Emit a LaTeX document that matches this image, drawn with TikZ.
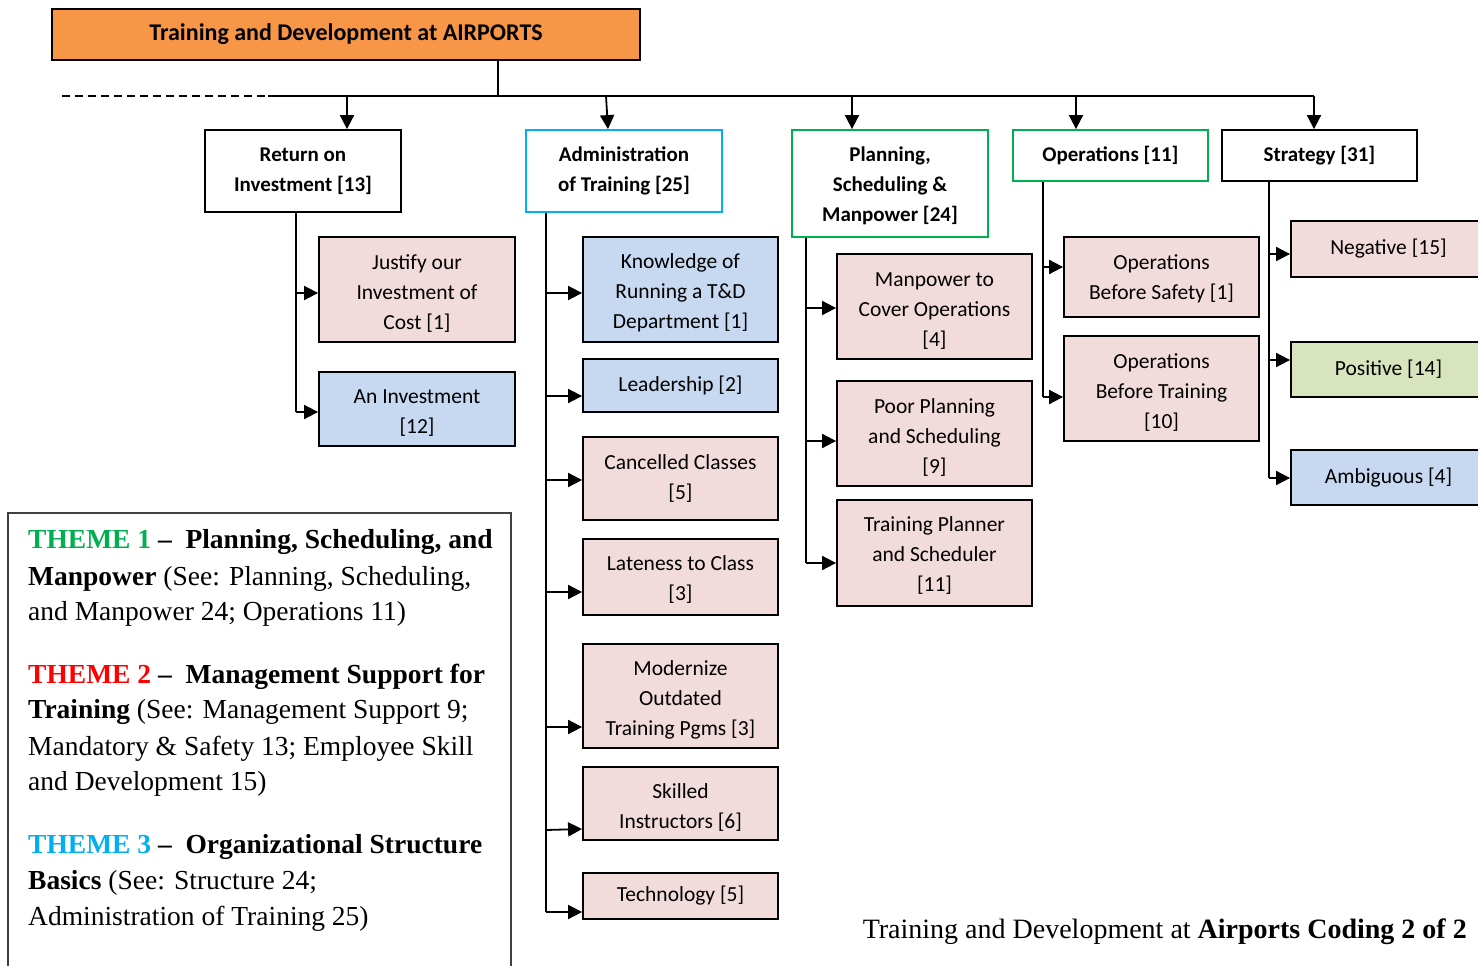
\documentclass[tikz,border=0pt]{standalone}
\usepackage{fontspec}
\usepackage{graphicx}
\setmainfont{Liberation Serif}
\newfontfamily\calfont{Carlito}
\usetikzlibrary{arrows.meta}
\definecolor{topfill}{HTML}{F79646}
\definecolor{pinkfill}{HTML}{F2DCDB}
\definecolor{bluefill}{HTML}{C6D9F1}
\definecolor{greenfill}{HTML}{D7E4BD}
\definecolor{cyanline}{HTML}{00B0F0}
\definecolor{greenline}{HTML}{00B050}
\definecolor{themered}{HTML}{FF0000}
\definecolor{framegray}{HTML}{404040}
% taller first line: sets multi-line box text a little lower
\newcommand\tallrow[1][22pt]{\rule{0pt}{#1}}
\tikzset{
  box/.style={draw=black, line width=1.8pt, inner sep=0pt, align=center,
    font=\calfont\fontsize{21.5}{30}\selectfont},
  headbox/.style={box, font=\calfont\bfseries\fontsize{21}{30}\selectfont},
  pinkbox/.style={box, fill=pinkfill},
  bluebox/.style={box, fill=bluefill},
  greenbox/.style={box, fill=greenfill},
  wire/.style={line width=1.8pt},
  arr/.style={line width=1.8pt, -{Triangle[length=14pt,width=14pt]}},
  themeline/.style={anchor=base west, inner sep=0pt,
    font=\fontsize{27.5}{36}\selectfont},
}
\begin{document}
\begin{tikzpicture}[x=1pt,y=-1pt]
\useasboundingbox (0,0) rectangle (1478,966);
\clip (0,0) rectangle (1478,966);
\fill[white] (0,0) rectangle (1478,966);

% title bar
\node[headbox, fill=topfill, minimum width=588pt, minimum height=51pt,
  font=\calfont\bfseries\fontsize{24}{30}\selectfont] (top) at (346,34.5)
  {Training and Development at AIRPORTS};

% first level
\node[headbox, minimum width=196pt, minimum height=82pt] (roi) at (303,171)
  {Return on\\Investment [13]};
\node[headbox, draw=cyanline, minimum width=196pt, minimum height=82pt] (adm) at (624,171)
  {Administration\\of Training [25]};
\node[headbox, draw=greenline, minimum width=196pt, minimum height=107pt] (pln) at (890,183.5)
  {\tallrow[19pt]Planning,\\Scheduling \&\\Manpower [24]};
\node[headbox, draw=greenline, minimum width=195pt, minimum height=51pt] (ops) at (1110.5,155.5)
  {Operations [11]};
\node[headbox, minimum width=195pt, minimum height=51pt] (str) at (1319.5,155.5)
  {Strategy [31]};

% return on investment
\node[pinkbox, minimum width=196pt, minimum height=105pt] (just) at (417,289.5)
  {\tallrow Justify our\\Investment of\\Cost [1]};
\node[bluebox, minimum width=196pt, minimum height=74pt] (inv) at (417,409)
  {\tallrow An Investment\\{}[12]};

% administration of training
\node[bluebox, minimum width=195pt, minimum height=105pt] (know) at (680.5,289.5)
  {\tallrow Knowledge of\\Running a T\&D\\Department [1]};
\node[bluebox, minimum width=195pt, minimum height=53pt] (lead) at (680.5,385.5)
  {Leadership [2]};
\node[pinkbox, minimum width=195pt, minimum height=83pt] (canc) at (680.5,478.5)
  {Cancelled Classes\\{}[5]};
\node[pinkbox, minimum width=195pt, minimum height=76pt] (late) at (680.5,577)
  {\tallrow[19pt]Lateness to Class\\{}[3]};
\node[pinkbox, minimum width=195pt, minimum height=104pt] (mod) at (680.5,696)
  {\tallrow Modernize\\Outdated\\Training Pgms [3]};
\node[pinkbox, minimum width=195pt, minimum height=73pt] (skl) at (680.5,803.5)
  {\tallrow Skilled\\Instructors [6]};
\node[pinkbox, minimum width=195pt, minimum height=46pt] (tech) at (680.5,896)
  {Technology [5]};

% planning, scheduling and manpower
\node[pinkbox, minimum width=195pt, minimum height=105pt] (man) at (934.5,306.5)
  {\tallrow Manpower to\\Cover Operations\\{}[4]};
\node[pinkbox, minimum width=195pt, minimum height=105pt] (poor) at (934.5,433.5)
  {\tallrow Poor Planning\\and Scheduling\\{}[9]};
\node[pinkbox, minimum width=195pt, minimum height=106pt] (tps) at (934.5,553)
  {\tallrow[19pt]Training Planner\\and Scheduler\\{}[11]};

% operations
\node[pinkbox, minimum width=195pt, minimum height=80pt] (obs) at (1161.5,277)
  {\tallrow[19pt]Operations\\Before Safety [1]};
\node[pinkbox, minimum width=195pt, minimum height=105pt] (obt) at (1161.5,388.5)
  {\tallrow Operations\\Before Training\\{}[10]};

% strategy
\node[pinkbox, minimum width=195pt, minimum height=56pt] (neg) at (1388.5,249)
  {Negative [15]};
\node[greenbox, minimum width=195pt, minimum height=55pt] (pos) at (1388.5,369.5)
  {Positive [14]};
\node[bluebox, minimum width=195pt, minimum height=55pt] (amb) at (1388.5,477.5)
  {Ambiguous [4]};

% distribution bar
\coordinate (barL) at (268,96);
\coordinate (barR) at (1314,96);
\coordinate (dashL) at (62,96);
\draw[wire] (top.south -| 498,0) -- (barL -| 498,0);
\draw[wire] (barL) -- (barR);
\draw[line width=1.5pt, dash pattern=on 8pt off 5pt] (dashL) -- (barL);
\draw[arr] (barL -| 347,0) -- (roi.north -| 347,0);
\draw[arr] (barL -| 606,0) -- (adm.north -| 608,0);
\draw[arr] (barL -| 852,0) -- (pln.north -| 852,0);
\draw[arr] (barL -| 1076,0) -- (ops.north -| 1076,0);
\draw[arr] (barR) -- (str.north -| barR);

% branch trunks
\coordinate (roiT) at (296,0);
\coordinate (admT) at (546,0);
\coordinate (plnT) at (806,0);
\coordinate (opsT) at (1043,0);
\coordinate (strT) at (1269,0);

\draw[wire] (roi.south -| roiT) -- (roiT |- 0,412);
\draw[arr] (roiT |- 0,293) -- (just.west |- 0,293);
\draw[arr] (roiT |- 0,412) -- (inv.west |- 0,412);

\draw[wire] (adm.south -| admT) -- (admT |- 0,912);
\draw[arr] (admT |- 0,293) -- (know.west |- 0,293);
\draw[arr] (admT |- 0,396) -- (lead.west |- 0,396);
\draw[arr] (admT |- 0,480) -- (canc.west |- 0,480);
\draw[arr] (admT |- 0,592) -- (late.west |- 0,592);
\draw[arr] (admT |- 0,727) -- (mod.west |- 0,727);
\draw[arr] (admT |- 0,830) -- (skl.west |- 0,829);
\draw[arr] (admT |- 0,912) -- (tech.west |- 0,912);

\draw[wire] (pln.south -| plnT) -- (plnT |- 0,563);
\draw[arr] (plnT |- 0,308) -- (man.west |- 0,308);
\draw[arr] (plnT |- 0,441) -- (poor.west |- 0,441);
\draw[arr] (plnT |- 0,563) -- (tps.west |- 0,563);

\draw[wire] (ops.south -| opsT) -- (opsT |- 0,397);
\draw[arr] (opsT |- 0,267) -- (obs.west |- 0,267);
\draw[arr] (opsT |- 0,397) -- (obt.west |- 0,397);

\draw[wire] (str.south -| strT) -- (strT |- 0,478);
\draw[arr] (strT |- 0,254) -- (neg.west |- 0,254);
\draw[arr] (strT |- 0,360) -- (pos.west |- 0,360);
\draw[arr] (strT |- 0,478) -- (amb.west |- 0,478);

% theme legend
\draw[framegray, line width=1.3pt] (8,980) -- (8,513) -- (511,513) -- (511,980);
\node[themeline] (t1a) at (28,548)
  {\textcolor{greenline}{\textbf{THEME 1}} \textbf{–\ \ Planning, Scheduling, and}};
\node[themeline] (t1b) at (28,585)
  {\textbf{Manpower} (See: Planning, Scheduling,};
\node[themeline] (t1c) at (28,620)
  {and Manpower 24; Operations 11)};
\node[themeline] (t2a) at (28,683)
  {\textcolor{themered}{\textbf{THEME 2}} \textbf{–\ \ Management Support for}};
\node[themeline] (t2b) at (28,718)
  {\textbf{Training} (See: Management Support 9;};
\node[themeline] (t2c) at (28,755)
  {Mandatory \& Safety 13; Employee Skill};
\node[themeline] (t2d) at (28,790)
  {and Development 15)};
\node[themeline] (t3a) at (28,853)
  {\textcolor{cyanline}{\textbf{THEME 3}} \textbf{–\ \ Organizational Structure}};
\node[themeline] (t3b) at (28,889)
  {\textbf{Basics} (See: Structure 24;};
\node[themeline] (t3c) at (28,925)
  {Administration of Training 25)};

% caption
\node[anchor=base east, inner sep=0pt, font=\fontsize{28}{32}\selectfont] (cap) at (1467,938)
  {Training and Development at \textbf{Airports Coding 2 of 2}};
\end{tikzpicture}
\end{document}
